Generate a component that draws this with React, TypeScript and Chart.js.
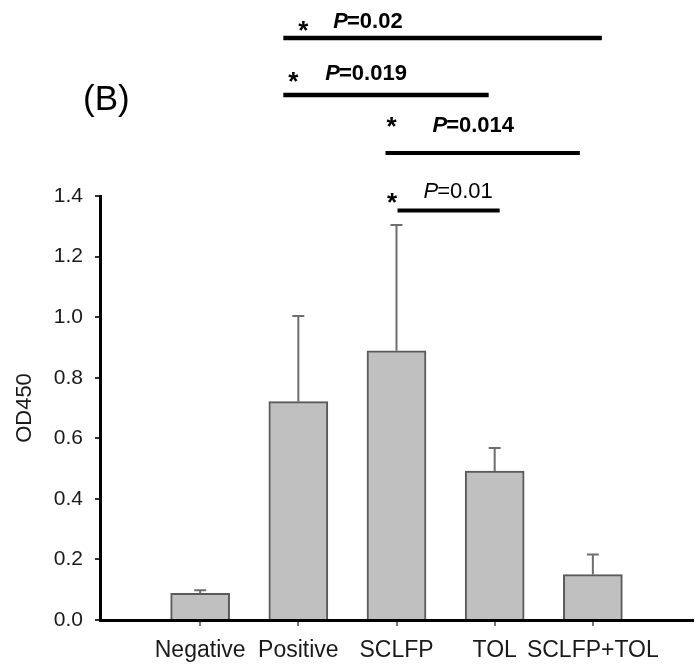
import { useEffect, useRef } from 'react';
import { Chart, registerables } from 'chart.js';

Chart.register(...registerables);

const FONT = '"Liberation Sans", Arial, Helvetica, sans-serif';

// ---- data ----
const categories = ['Negative', 'Positive', 'SCLFP', 'TOL', 'SCLFP+TOL'];
const means = [0.088, 0.721, 0.889, 0.492, 0.15];
const errors = [0.01, 0.283, 0.415, 0.076, 0.066];

// significance comparisons (category indices) and p-values
const compareFrom = [1, 1, 2, 2];
const compareTo = [4, 3, 4, 3];
const pValues = ['0.02', '0.019', '0.014', '0.01'];
const pBold = [true, true, true, false];

// ---- layout of significance brackets (pixels) ----
const bracketLayout = [
  { dxStart: -15, dxEnd: 9, y: 38, width: 4.5, starDx: 20, starDy: -11, textDx: 50, textDy: -10 },
  { dxStart: -15, dxEnd: -6, y: 95, width: 4.5, starDx: 10, starDy: -17, textDx: 42, textDy: -15 },
  { dxStart: -11, dxEnd: -13, y: 153, width: 4, starDx: 6, starDy: -30, textDx: 47, textDy: -21 },
  { dxStart: 1, dxEnd: 5, y: 210.5, width: 4, starDx: -5.5, starDy: -12, textDx: 26, textDy: -13 },
];

const errorBarPlugin = {
  id: 'errorBars',
  afterDatasetsDraw(chart: any) {
    const ctx = chart.ctx;
    const meta = chart.getDatasetMeta(0);
    const y = chart.scales.y;
    ctx.save();
    ctx.strokeStyle = '#6e6e6e';
    ctx.lineWidth = 2;
    meta.data.forEach((el: any, i: number) => {
      const top = y.getPixelForValue(means[i] + errors[i]);
      ctx.beginPath();
      ctx.moveTo(el.x, el.y);
      ctx.lineTo(el.x, top);
      ctx.moveTo(el.x - 6, top);
      ctx.lineTo(el.x + 6, top);
      ctx.stroke();
    });
    ctx.restore();
  },
};

const annotationPlugin = {
  id: 'sigAnnotations',
  afterDraw(chart: any) {
    const ctx = chart.ctx;
    const x = chart.scales.x;
    ctx.save();
    // panel label
    ctx.fillStyle = '#000';
    ctx.textAlign = 'left';
    ctx.textBaseline = 'alphabetic';
    ctx.font = `35px ${FONT}`;
    ctx.fillText('(B)', 83, 110);

    compareFrom.forEach((from, i) => {
      const L = bracketLayout[i];
      const x1 = x.getPixelForValue(from) + L.dxStart;
      const x2 = x.getPixelForValue(compareTo[i]) + L.dxEnd;
      ctx.strokeStyle = '#000';
      ctx.lineWidth = L.width;
      ctx.beginPath();
      ctx.moveTo(x1, L.y);
      ctx.lineTo(x2, L.y);
      ctx.stroke();

      // star
      ctx.font = `bold 26px ${FONT}`;
      ctx.textAlign = 'center';
      ctx.fillText('*', x1 + L.starDx, L.y + L.starDy + 12);

      // P text
      ctx.textAlign = 'left';
      const weight = pBold[i] ? 'bold ' : '';
      ctx.font = `italic ${weight}22px ${FONT}`;
      const tx = x1 + L.textDx;
      const ty = L.y + L.textDy;
      ctx.fillText('P', tx, ty);
      const w = ctx.measureText('P').width;
      ctx.font = `${weight}22px ${FONT}`;
      ctx.fillText('=' + pValues[i], tx + w - 1, ty);
    });
    ctx.restore();
  },
};

export default function App() {
  const ref = useRef<HTMLCanvasElement>(null);
  useEffect(() => {
    document.body.style.margin = '0';
    const chart = new Chart(ref.current as HTMLCanvasElement, {
      type: 'bar',
      data: {
        datasets: [
          {
            data: means.map((v, i) => ({ x: i, y: v })),
            backgroundColor: '#c0c0c0',
            borderColor: '#5a5a5a',
            borderWidth: 2,
            barThickness: 59,
          },
        ],
      },
      options: {
        animation: false,
        responsive: true,
        maintainAspectRatio: false,
        layout: { padding: { top: 196, right: 6, left: 0, bottom: 0 } },
        plugins: { legend: { display: false }, tooltip: { enabled: false } },
        scales: {
          x: {
            type: 'linear',
            offset: false,
            min: -1.02,
            max: 5.02,
            afterBuildTicks: (axis: any) => {
              axis.ticks = categories.map((_, i) => ({ value: i }));
            },
            afterFit: (s: any) => {
              s.height = 46;
            },
            grid: {
              offset: false,
              drawOnChartArea: false,
              drawTicks: true,
              tickLength: 6,
              color: '#777',
              lineWidth: 2,
            },
            border: { display: true, color: '#000', width: 3 },
            ticks: {
              autoSkip: false,
              maxRotation: 0,
              padding: 11,
              color: '#1a1a1a',
              font: { family: FONT, size: 23 },
              callback: (v: any) => categories[v as number] ?? '',
            },
          },
          y: {
            min: 0,
            max: 1.4,
            afterFit: (s: any) => {
              s.width = 100;
            },
            grid: {
              drawOnChartArea: false,
              drawTicks: true,
              tickLength: 5,
              color: '#333',
              lineWidth: 2,
            },
            border: { display: true, color: '#000', width: 3 },
            ticks: {
              stepSize: 0.2,
              padding: 12,
              color: '#1a1a1a',
              font: { family: FONT, size: 21 },
              callback: (v: any) => Number(v).toFixed(1),
            },
            title: {
              display: true,
              text: 'OD450',
              color: '#1a1a1a',
              font: { family: FONT, size: 22 },
              padding: { top: 12, bottom: 0 },
            },
          },
        },
      },
      plugins: [errorBarPlugin, annotationPlugin],
    });
    return () => chart.destroy();
  }, []);
  return (
    <div style={{ width: 699, height: 666, position: 'relative' }}>
      <canvas ref={ref} />
    </div>
  );
}
